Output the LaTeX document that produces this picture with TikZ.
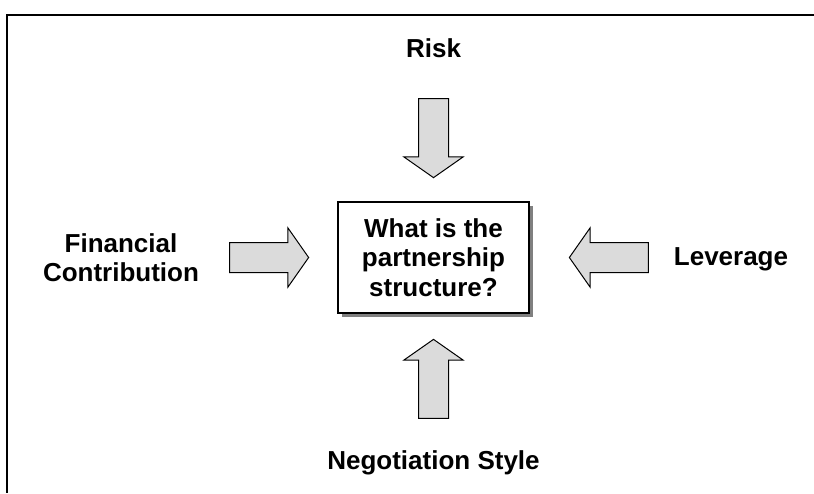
\documentclass[tikz,border=0pt]{standalone}
\usepackage{fontspec}
\setmainfont{Liberation Sans}
\usetikzlibrary{shapes,arrows,positioning,shadows}
\tikzstyle{question} = [draw, line width=1.5pt, fill=white, minimum width=191pt, minimum height=111pt, align=center, drop shadow={opacity=1, fill=black!50, shadow xshift=4pt, shadow yshift=-4pt}]
\tikzstyle{factor} = [single arrow, draw, line width=1pt, fill=black!14, minimum height=79pt, inner sep=14.5pt, single arrow head extend=14.5pt, single arrow tip angle=110]

\begin{document}
\begin{tikzpicture}[x=1pt, y=-1pt, font=\fontsize{26}{29.5}\selectfont\bfseries]
    \useasboundingbox (0,0) rectangle (814,493);
    % frame
    \draw [line width=2pt] (814,14.5) -| (7,493);

    % Place nodes
    \node [question] (struct) at (433.5,257.5) {What is the\\partnership\\structure?};
    \node [factor, shape border rotate=270, above=23pt of struct, anchor=tip] (riskarrow) {};
    \node [factor, shape border rotate=90, below=25pt of struct, anchor=tip] (negarrow) {};
    \node [factor, shape border rotate=0, left=28pt of struct, anchor=tip] (finarrow) {};
    \node [factor, shape border rotate=180, right=39pt of struct, anchor=tip] (levarrow) {};

    % factor names
    \node [anchor=base] (risk) at (433.5,57) {Risk};
    \node [anchor=base] (negotiation) at (433.5,469) {Negotiation Style};
    \node [align=center] (finance) at (121,257.5) {Financial\\Contribution};
    \node [anchor=base] (leverage) at (731,265) {Leverage};

\end{tikzpicture}
\end{document}
